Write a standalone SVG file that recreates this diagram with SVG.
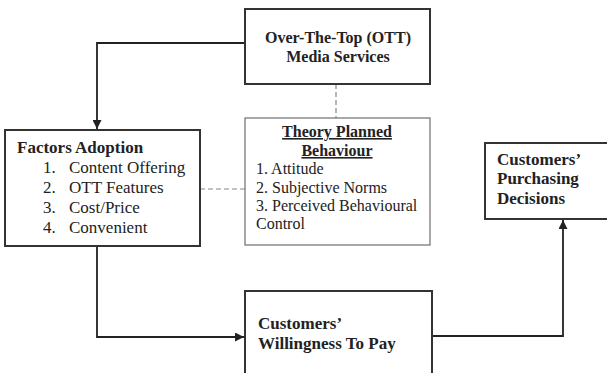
<svg xmlns="http://www.w3.org/2000/svg" width="607" height="373" viewBox="0 0 607 373">
<style>
.box{fill:#fff;stroke:#333;stroke-width:2}
.tbox{fill:#fff;stroke:#7a7a7a;stroke-width:1.3}
.b{font-family:"Liberation Serif","Times New Roman",serif;font-weight:bold;fill:#222}
.r{font-family:"Liberation Serif","Times New Roman",serif;fill:#222}
.line{fill:none;stroke:#222;stroke-width:1.8}
.dash{fill:none;stroke:#888;stroke-width:1.2;stroke-dasharray:5,3}
</style>
<defs>
<marker id="arr" viewBox="0 0 10 10" refX="10" refY="5" markerWidth="5" markerHeight="5" orient="auto" markerUnits="strokeWidth">
<path d="M0,0 L10,5 L0,10 z" fill="#222"/>
</marker>
</defs>
<rect width="607" height="373" fill="#fff"/>
<g id="connectors">
<path class="line" d="M245,43 H97 V129" marker-end="url(#arr)"/>
<path class="line" d="M97,246 V337 H244" marker-end="url(#arr)"/>
<path class="line" d="M432,336 H563 V220" marker-end="url(#arr)"/>
<path class="dash" d="M336,84 V118"/>
<path class="dash" d="M200,189 H245"/>
</g>
<g id="ott">
<rect class="box" x="245" y="9" width="185" height="75"/>
<text class="b" font-size="16" x="338" y="43" text-anchor="middle">Over-The-Top (OTT)</text>
<text class="b" font-size="16" x="338" y="62" text-anchor="middle">Media Services</text>
</g>
<g id="factors">
<rect class="box" x="5" y="130" width="195" height="116"/>
<text class="b" font-size="17" x="17" y="153">Factors Adoption</text>
<text class="r" font-size="17" x="43" y="173">1.</text>
<text class="r" font-size="17" x="69" y="173">Content Offering</text>
<text class="r" font-size="17" x="43" y="193">2.</text>
<text class="r" font-size="17" x="69" y="193">OTT Features</text>
<text class="r" font-size="17" x="43" y="213">3.</text>
<text class="r" font-size="17" x="69" y="213">Cost/Price</text>
<text class="r" font-size="17" x="43" y="233">4.</text>
<text class="r" font-size="17" x="69" y="233">Convenient</text>
</g>
<g id="theory">
<rect class="tbox" x="245" y="118" width="185" height="127"/>
<text class="b" font-size="16" x="337" y="137" text-anchor="middle" text-decoration="underline">Theory Planned</text>
<text class="b" font-size="16" x="337" y="156" text-anchor="middle" text-decoration="underline">Behaviour</text>
<text class="r" font-size="16" x="256" y="174">1. Attitude</text>
<text class="r" font-size="16" x="256" y="193">2. Subjective Norms</text>
<text class="r" font-size="16" x="256" y="211">3. Perceived Behavioural</text>
<text class="r" font-size="16" x="256" y="229">Control</text>
</g>
<g id="purchasing">
<rect class="box" x="485" y="143" width="130" height="76"/>
<text class="b" font-size="17" x="497" y="165">Customers’</text>
<text class="b" font-size="17" x="497" y="184">Purchasing</text>
<text class="b" font-size="17" x="497" y="204">Decisions</text>
</g>
<g id="wtp">
<rect class="box" x="245" y="291" width="187" height="90"/>
<text class="b" font-size="17" x="258" y="329">Customers’</text>
<text class="b" font-size="17" x="258" y="349">Willingness To Pay</text>
</g>
</svg>
